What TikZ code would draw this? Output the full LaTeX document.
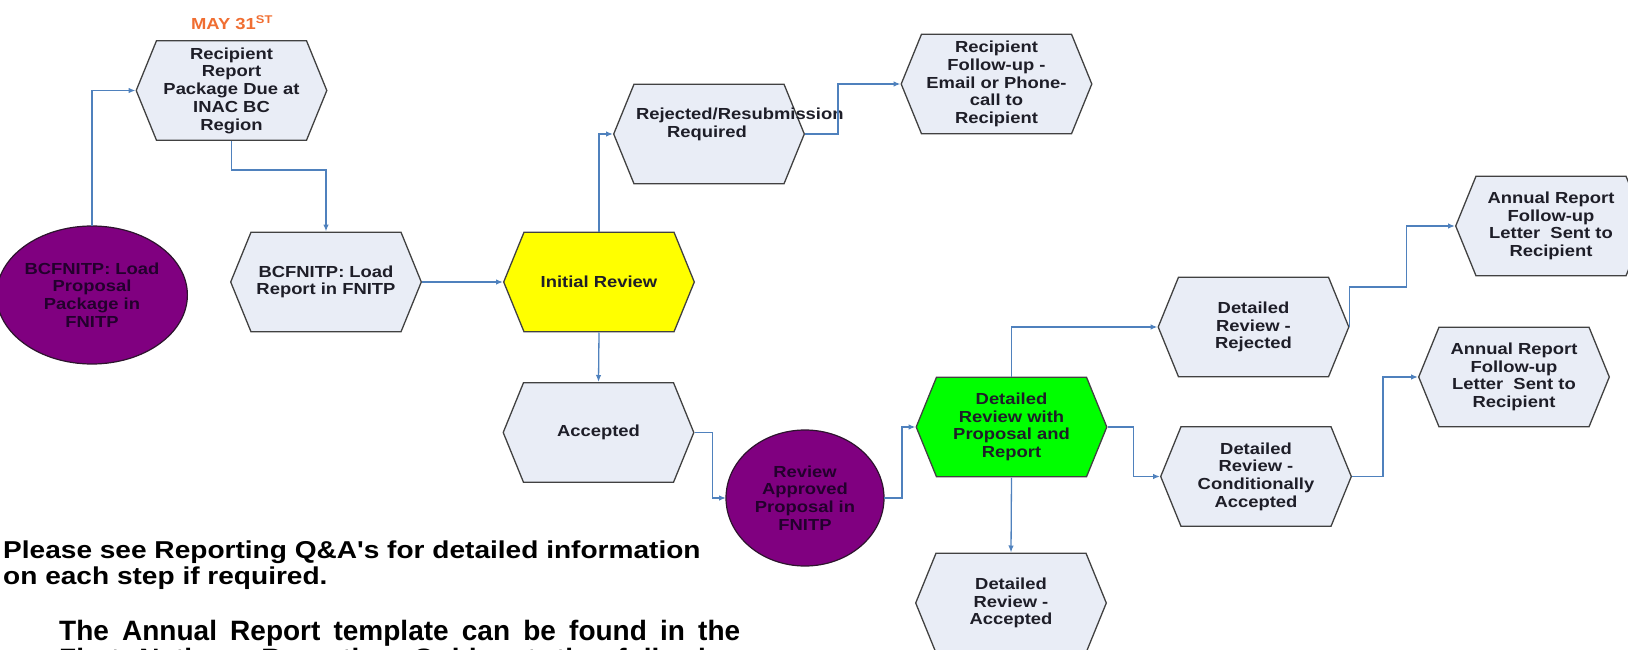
\documentclass[tikz,border=0pt]{standalone}
\usepackage{fontspec}
\usetikzlibrary{arrows.meta,shapes.geometric,calc}
\newfontfamily\nodeface{Liberation Sans}[FakeStretch=1.15]
\newfontfamily\plainface{Liberation Sans}
\newcommand\nodefnt{\nodeface\bfseries\fontsize{16}{17.7}\selectfont}
\definecolor{hexfill}{RGB}{233,237,246}
\definecolor{hexline}{RGB}{65,65,65}
\definecolor{txtc}{RGB}{30,30,40}
\definecolor{purp}{RGB}{128,0,128}
\definecolor{purpline}{RGB}{45,20,45}
\definecolor{purptxt}{RGB}{35,0,45}
\definecolor{yel}{RGB}{255,255,0}
\definecolor{grn}{RGB}{0,255,0}
\definecolor{connc}{RGB}{79,129,189}
\definecolor{mayc}{RGB}{240,110,50}
\tikzset{
  hexbox/.style={
    minimum width=192pt, minimum height=101pt, inner sep=0pt, outer sep=0pt,
    align=center, text=txtc, font=\nodefnt,
    path picture={
      \path[draw=hexline, line width=1.3pt, fill=#1, line join=miter]
        let \p1=(path picture bounding box.north west),
            \p2=(path picture bounding box.south east) in
        (\x1+0.7pt,{(\y1+\y2)/2}) -- (\x1+21pt,\y1-0.7pt) -- (\x2-21pt,\y1-0.7pt)
        -- (\x2-0.7pt,{(\y1+\y2)/2}) -- (\x2-21pt,\y2+0.7pt) -- (\x1+21pt,\y2+0.7pt) -- cycle;
    }},
  hexbox/.default=hexfill,
  blob/.style={ellipse, draw=purpline, line width=1.2pt, fill=purp, inner sep=0pt,
    outer sep=0pt, align=center, text=purptxt, font=\nodefnt},
  conn/.style={draw=connc, line width=1.3pt, -{Latex[length=7pt,width=5.5pt]}}
}
\begin{document}
\begin{tikzpicture}[x=1pt,y=-1pt]
\useasboundingbox (0,0) rectangle (1628,650);
\clip (0,0) rectangle (1628,650);

\node[font=\nodefnt, text=mayc] (may) at (232,23) {MAY 31\textsuperscript{ST}};

\node[hexbox] (rrp) at (231.5,90.5) {Recipient\\Report\\Package Due at\\INAC BC\\Region};
\node[blob, minimum width=160pt, minimum height=138pt] (lp) at (92,295) {BCFNITP: Load\\Proposal\\Package in\\FNITP};
\node[hexbox] (lr) at (326,282) {BCFNITP: Load\\Report in FNITP};
\node[hexbox=yel] (ir) at (599,282) {Initial Review};
\node[hexbox] (rej) at (709,134) {\makebox[170pt][l]{\hspace*{12pt}\raisebox{5pt}[17pt][17pt]{\begin{tabular}{@{}l@{}}Rejected/Resubmission\\\hspace*{31pt}Required\end{tabular}}}};
\node[hexbox] (rfu) at (996.5,84) {Recipient\\Follow-up -\\Email or Phone-\\call to\\Recipient};
\node[hexbox] (acc) at (598.5,432.5) {Accepted};
\node[blob, minimum width=158pt, minimum height=136pt] (rap) at (805,498) {Review\\Approved\\Proposal in\\FNITP};
\node[hexbox=grn] (drp) at (1011.5,427) {Detailed\\Review with\\Proposal and\\Report};
\node[hexbox] (drr) at (1253.5,327) {Detailed\\Review -\\Rejected};
\node[hexbox] (drca) at (1256,476.5) {Detailed\\Review -\\Conditionally\\Accepted};
\node[hexbox] (dra) at (1011,603) {Detailed\\Review -\\Accepted};
\node[hexbox] (ar1) at (1551,226) {Annual Report\\Follow-up\\Letter~~Sent to\\Recipient};
\node[hexbox] (ar2) at (1514,377) {Annual Report\\Follow-up\\Letter~~Sent to\\Recipient};

\draw[conn] (lp.north) |- (rrp.west);
\draw[conn] (rrp.south) -- ++(0,29) -| (lr.north);
\draw[conn] (lr.east) -- (ir.west);
\draw[conn] (ir.north) |- (rej.west);
\draw[conn] (rej.east) -- ++(33,0) |- (rfu.west);
\draw[conn] (ir.south) -- (acc.north);
\draw[conn] (acc.east) -- ++(18,0) |- (rap.west);
\draw[conn] (rap.east) -- ++(18,0) |- (drp.west);
\draw[conn] (drp.north) |- (drr.west);
\draw[conn] (drp.east) -- ++(26,0) |- (drca.west);
\draw[conn] (drp.south) -- (dra.north);
\draw[conn] (drr.east) |- ++(57,-40) |- (ar1.west);
\draw[conn] (drca.east) -- ++(31,0) |- (ar2.west);

\node[anchor=west, inner sep=0pt, align=left, text=black,
      font=\nodeface\bfseries\fontsize{24.4}{26}\selectfont] (note1) at (3,565)
  {Please see Reporting Q\&A's for detailed information\\on each step if required.};
\node[anchor=base west, inner sep=0pt, text=black,
      font=\plainface\bfseries\fontsize{28}{28}\selectfont] (note2) at (59,640)
  {\makebox[681pt][s]{The Annual Report template can be found in the}};
\node[anchor=base west, inner sep=0pt, text=black,
      font=\plainface\bfseries\fontsize{28}{28}\selectfont] (note3) at (59,668)
  {\makebox[681pt][s]{First Nations Reporting Guide at the following}};
\end{tikzpicture}
\end{document}
